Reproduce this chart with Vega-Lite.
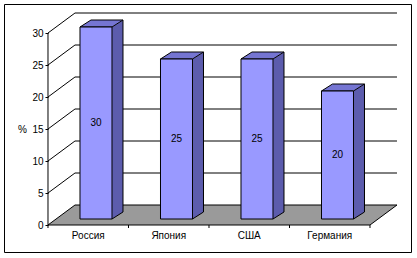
{
  "$schema": "https://vega.github.io/schema/vega-lite/v6.json",
  "width": 407,
  "height": 248,
  "autosize": {"type": "none"},
  "padding": {"left": 4, "top": 4, "right": 6, "bottom": 6},
  "background": "white",
  "config": {
    "view": {"stroke": "black", "strokeWidth": 1},
    "font": "Liberation Sans",
    "text": {"font": "Liberation Sans"}
  },
  "datasets": {
    "bars": [
      {"country": "Россия", "value": 30},
      {"country": "Япония", "value": 25},
      {"country": "США", "value": 25},
      {"country": "Германия", "value": 20}
    ],
    "ticks": [{"v": 0}, {"v": 5}, {"v": 10}, {"v": 15}, {"v": 20}, {"v": 25}, {"v": 30}]
  },
  "layer": [
    {
      "data": {"name": "ticks"},
      "transform": [{"filter": "datum.v == 0"}],
      "mark": {"type": "rect", "fill": "#9a9a9a", "xOffset": 27, "yOffset": -20},
      "encoding": {
        "x": {"datum": "Россия", "type": "nominal", "bandPosition": 0,
              "scale": {"type": "band", "domain": ["Россия", "Япония", "США", "Германия"], "paddingInner": 0, "paddingOuter": 0.52795, "align": 0.5176}},
        "x2": {"datum": "Германия", "bandPosition": 1},
        "y": {"datum": 0, "type": "quantitative", "scale": {"domain": [-4.21875, 34.53125], "nice": false, "zero": false}},
        "y2": {"datum": 0}
      }
    },
    {
      "data": {"name": "ticks"},
      "transform": [{"filter": "datum.v == 0"}],
      "mark": {"type": "point", "shape": "M0,0L27,-20L27,0Z", "size": 4, "filled": true, "fill": "#9a9a9a", "strokeWidth": 0, "opacity": 1},
      "encoding": {
        "x": {"datum": "Россия", "type": "nominal", "bandPosition": 0},
        "y": {"datum": 0, "type": "quantitative"}
      }
    },
    {
      "data": {"name": "ticks"},
      "transform": [{"filter": "datum.v == 0"}],
      "mark": {"type": "point", "shape": "M0,0L0,-20L27,-20Z", "size": 4, "filled": true, "fill": "#9a9a9a", "strokeWidth": 0, "opacity": 1},
      "encoding": {
        "x": {"datum": "Германия", "type": "nominal", "bandPosition": 1},
        "y": {"datum": 0, "type": "quantitative"}
      }
    },
    {
      "data": {"name": "ticks"},
      "mark": {"type": "rule", "color": "black", "strokeWidth": 1, "xOffset": 27, "x2Offset": 27, "yOffset": -20},
      "encoding": {
        "x": {"datum": "Россия", "type": "nominal", "bandPosition": 0},
        "x2": {"datum": "Германия", "bandPosition": 1},
        "y": {"field": "v", "type": "quantitative"}
      }
    },
    {
      "data": {"name": "ticks"},
      "mark": {"type": "rule", "color": "black", "strokeWidth": 1, "x2Offset": 27, "y2Offset": -20},
      "encoding": {
        "x": {"datum": "Россия", "type": "nominal", "bandPosition": 0},
        "x2": {"datum": "Россия", "bandPosition": 0},
        "y": {"field": "v", "type": "quantitative"},
        "y2": {"field": "v"}
      }
    },
    {
      "data": {"name": "ticks"},
      "transform": [{"filter": "datum.v == 0"}],
      "mark": {"type": "rule", "color": "black", "strokeWidth": 1, "x2Offset": 27, "y2Offset": -20},
      "encoding": {
        "x": {"datum": "Германия", "type": "nominal", "bandPosition": 1},
        "x2": {"datum": "Германия", "bandPosition": 1},
        "y": {"datum": 0, "type": "quantitative"},
        "y2": {"datum": 0}
      }
    },
    {
      "data": {"name": "bars"},
      "mark": {"type": "bar", "width": 11, "xOffset": 29.25, "yOffset": -6, "y2Offset": -13, "fill": "#5c5cad", "strokeWidth": 0},
      "encoding": {
        "x": {"field": "country", "type": "nominal"},
        "y": {"field": "value", "type": "quantitative"},
        "y2": {"datum": 0}
      }
    },
    {
      "data": {"name": "bars"},
      "mark": {"type": "point", "shape": "M0,0L11,-7L11,0Z", "size": 4, "filled": true, "fill": "#5c5cad", "strokeWidth": 0, "opacity": 1, "xOffset": 23.75, "yOffset": -6},
      "encoding": {
        "x": {"field": "country", "type": "nominal"},
        "y": {"field": "value", "type": "quantitative"}
      }
    },
    {
      "data": {"name": "bars"},
      "mark": {"type": "point", "shape": "M0,0L0,-7L11,-7Z", "size": 4, "filled": true, "fill": "#5c5cad", "strokeWidth": 0, "opacity": 1, "xOffset": 23.75, "yOffset": -6},
      "encoding": {
        "x": {"field": "country", "type": "nominal"},
        "y": {"datum": 0, "type": "quantitative"}
      }
    },
    {
      "data": {"name": "bars"},
      "mark": {"type": "rule", "color": "black", "strokeWidth": 1, "xOffset": 34.75, "yOffset": -13, "y2Offset": -13},
      "encoding": {
        "x": {"field": "country", "type": "nominal"},
        "y": {"field": "value", "type": "quantitative"},
        "y2": {"datum": 0}
      }
    },
    {
      "data": {"name": "bars"},
      "mark": {"type": "point", "shape": "M0,0L11,-7", "size": 4, "filled": false, "stroke": "black", "strokeWidth": 1, "opacity": 1, "xOffset": 23.75, "yOffset": -6},
      "encoding": {
        "x": {"field": "country", "type": "nominal"},
        "y": {"datum": 0, "type": "quantitative"}
      }
    },
    {
      "data": {"name": "bars"},
      "mark": {"type": "point", "shape": "M0,0L32,0L43,-7L11,-7Z", "size": 4, "filled": true, "fill": "#7575d2", "stroke": "black", "strokeWidth": 1, "opacity": 1, "xOffset": -8.25, "yOffset": -6},
      "encoding": {
        "x": {"field": "country", "type": "nominal"},
        "y": {"field": "value", "type": "quantitative"}
      }
    },
    {
      "data": {"name": "bars"},
      "mark": {"type": "bar", "width": 32, "xOffset": 7.75, "yOffset": -6, "y2Offset": -6, "fill": "#9999ff", "stroke": "black", "strokeWidth": 1},
      "encoding": {
        "x": {"field": "country", "type": "nominal",
              "axis": {"title": null, "offset": -27, "domain": false, "ticks": false, "tickSize": 0, "labelPadding": 10, "labelFontSize": 10, "labelColor": "black", "labelAngle": 0, "labelAlign": "center", "labelFont": "Liberation Sans"}},
        "y": {"field": "value", "type": "quantitative",
              "axis": {"title": "%", "titleAngle": 0, "titleX": -26, "titleY": 125, "titleAlign": "center", "titleBaseline": "middle", "titleFontSize": 10, "titleFontWeight": "normal", "titleColor": "black", "titleFont": "Liberation Sans", "offset": -44, "values": [0, 5, 10, 15, 20, 25, 30], "domain": false, "grid": false, "tickSize": 3, "tickColor": "black", "labelPadding": 2, "labelFontSize": 10, "labelColor": "black", "labelFont": "Liberation Sans"}},
        "y2": {"datum": 0}
      }
    },
    {
      "data": {"name": "bars"},
      "mark": {"type": "text", "xOffset": 7.75, "yOffset": -6, "baseline": "middle", "align": "center", "fontSize": 10, "color": "black"},
      "encoding": {
        "x": {"field": "country", "type": "nominal"},
        "y": {"field": "value", "type": "quantitative", "stack": "zero", "bandPosition": 0.5},
        "text": {"field": "value", "type": "quantitative"}
      }
    },
    {
      "data": {"name": "ticks"},
      "transform": [{"filter": "datum.v == 0"}],
      "mark": {"type": "rule", "color": "black", "strokeWidth": 1},
      "encoding": {
        "x": {"datum": "Россия", "type": "nominal", "bandPosition": 0},
        "y": {"datum": 0, "type": "quantitative"},
        "y2": {"datum": 30}
      }
    },
    {
      "data": {"name": "ticks"},
      "transform": [{"filter": "datum.v == 0"}],
      "mark": {"type": "rule", "color": "black", "strokeWidth": 1},
      "encoding": {
        "x": {"datum": "Россия", "type": "nominal", "bandPosition": 0},
        "x2": {"datum": "Германия", "bandPosition": 1},
        "y": {"datum": 0, "type": "quantitative"}
      }
    },
    {
      "data": {"name": "bars"},
      "mark": {"type": "rule", "color": "black", "strokeWidth": 1, "y2Offset": 3},
      "encoding": {
        "x": {"field": "country", "type": "nominal", "bandPosition": 0},
        "y": {"datum": 0, "type": "quantitative"},
        "y2": {"datum": 0}
      }
    },
    {
      "data": {"name": "ticks"},
      "transform": [{"filter": "datum.v == 0"}],
      "mark": {"type": "rule", "color": "black", "strokeWidth": 1, "y2Offset": 3},
      "encoding": {
        "x": {"datum": "Германия", "type": "nominal", "bandPosition": 1},
        "y": {"datum": 0, "type": "quantitative"},
        "y2": {"datum": 0}
      }
    }
  ]
}
